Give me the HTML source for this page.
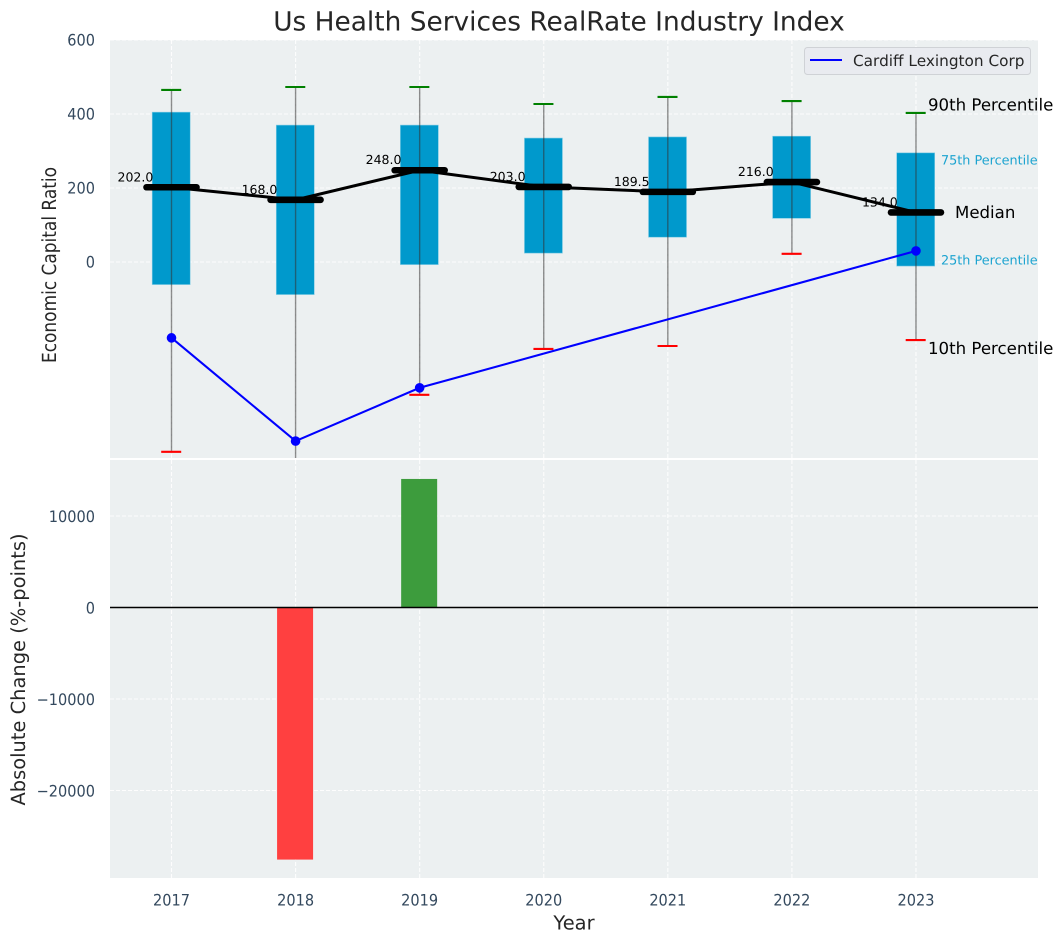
<!DOCTYPE html>
<html>
<head>
<meta charset="utf-8">
<title>Us Health Services RealRate Industry Index</title>
<style>
html,body{margin:0;padding:0;background:#fff;}
svg{display:block;font-family:"DejaVu Sans","Liberation Sans",sans-serif;text-rendering:geometricPrecision;}
</style>
</head>
<body>
<svg id="chart" xmlns="http://www.w3.org/2000/svg" width="1063" height="942" viewBox="0 0 1063 942">
<defs>
<clipPath id="clip-top"><rect x="110" y="40" width="928" height="418"/></clipPath>
<clipPath id="clip-bottom"><rect x="110" y="460" width="928" height="418"/></clipPath>
</defs>
<rect x="110" y="40" width="928" height="418" fill="#ecf0f1"/>
<rect x="110" y="460" width="928" height="418" fill="#ecf0f1"/>
<g id="grid-top" clip-path="url(#clip-top)"></g>
<g id="grid-bottom" clip-path="url(#clip-bottom)"></g>
<g id="marks-top" clip-path="url(#clip-top)"></g>
<g id="marks-bottom" clip-path="url(#clip-bottom)"></g>
<g id="labels"></g>
<text x="559" y="30.3" text-anchor="middle" font-size="26.4px" fill="#262626">Us Health Services RealRate Industry Index</text>
<text transform="translate(56,265) rotate(-90)" text-anchor="middle" font-size="19.44px" textLength="196" lengthAdjust="spacingAndGlyphs" fill="#262626">Economic Capital Ratio</text>
<text transform="translate(24.8,669.5) rotate(-90)" text-anchor="middle" font-size="19.44px" fill="#262626">Absolute Change (%-points)</text>
<text x="574" y="929.3" text-anchor="middle" font-size="19.44px" fill="#262626">Year</text>
<g>
<rect x="804.5" y="47.5" width="226" height="27" rx="3" fill="#e9ebf0" stroke="#cfd2d6" stroke-width="1"/>
<line x1="810" y1="60" x2="842" y2="60" stroke="#0000ff" stroke-width="2"/>
<text x="853" y="66" font-size="15.3px" fill="#262626">Cardiff Lexington Corp</text>
</g>
<text x="928" y="110.5" font-size="16.6px" fill="#000">90th Percentile</text>
<text x="941" y="164.5" font-size="12.8px" fill="#1ba3d0">75th Percentile</text>
<text x="955" y="218" font-size="16.6px" fill="#000">Median</text>
<text x="941" y="264.5" font-size="12.8px" fill="#1ba3d0">25th Percentile</text>
<text x="928" y="354" font-size="16.6px" fill="#000">10th Percentile</text>
</svg>
<script>
const years = [2017, 2018, 2019, 2020, 2021, 2022, 2023];
const p90 = [465, 473, 473, 427, 446, 435, 403];
const p75 = [405, 370, 370, 335, 338, 340, 295];
const medians = [202, 168, 248, 203, 189.5, 216, 134];
const medianLabels = ['202.0', '168.0', '248.0', '203.0', '189.5', '216.0', '134.0'];
const p25 = [-61, -88, -7, 24, 67, 118, -11];
const p10 = [-513, -560, -359, -235, -227, 22, -211];
const companyYears = [2017, 2018, 2019, 2023];
const companyValues = [-205, -484, -340, 30];
const changeYears = [2018, 2019];
const changeValues = [-27550, 14050];
const topTicks = [600, 400, 200, 0];
const bottomTicks = [10000, 0, -10000, -20000];
const bottomTickLabels = ['10000', '0', '\u221210000', '\u221220000'];

const NS = 'http://www.w3.org/2000/svg';
function xScale(year) { return 171.5 + (year - 2017) * 124.08; }
function yTop(v) { return 262 - v * 0.37; }
function yBottom(v) { return 607.5 - v * 0.00915; }
function make(parent, tag, attrs) {
  const el = document.createElementNS(NS, tag);
  for (const k in attrs) el.setAttribute(k, attrs[k]);
  parent.appendChild(el);
  return el;
}
function condense(el) {
  const natural = el.getComputedTextLength();
  el.setAttribute('textLength', natural * 0.92);
  el.setAttribute('lengthAdjust', 'spacingAndGlyphs');
}
const gridTop = document.getElementById('grid-top');
const gridBottom = document.getElementById('grid-bottom');
const marksTop = document.getElementById('marks-top');
const marksBottom = document.getElementById('marks-bottom');
const labels = document.getElementById('labels');
const gridStyle = { stroke: '#ffffff', 'stroke-width': 1.1, 'stroke-dasharray': '4 2', opacity: 0.9 };
const tickFont = { 'font-size': '15.8px', fill: '#34495e' };

years.forEach(function (yr) {
  const x = xScale(yr);
  const a = make(gridTop, 'line', Object.assign({ x1: x, x2: x, y1: 40, y2: 458 }, gridStyle));
  
  
  const b = make(gridBottom, 'line', Object.assign({ x1: x, x2: x, y1: 460, y2: 878 }, gridStyle));
  
  
  const t = make(labels, 'text', Object.assign({ x: x, y: 905.6, 'text-anchor': 'middle' }, tickFont));
  t.textContent = String(yr);
  condense(t);
  
  
});
topTicks.forEach(function (v) {
  const y = yTop(v);
  const g = make(gridTop, 'line', Object.assign({ x1: 110, x2: 1038, y1: y, y2: y }, gridStyle));
  
  
  const t = make(labels, 'text', Object.assign({ x: 95, y: y + 5.6, 'text-anchor': 'end' }, tickFont));
  t.textContent = String(v);
  condense(t);
  
  
});
bottomTicks.forEach(function (v, i) {
  const y = yBottom(v);
  const g = make(gridBottom, 'line', Object.assign({ x1: 110, x2: 1038, y1: y, y2: y }, gridStyle));
  
  
  const t = make(labels, 'text', Object.assign({ x: 95, y: y + 6.2, 'text-anchor': 'end' }, tickFont));
  t.textContent = bottomTickLabels[i];
  condense(t);
  
  
});

years.forEach(function (yr, i) {
  const x = xScale(yr);
  const box = make(marksTop, 'rect', { x: x - 19.3, y: yTop(p75[i]), width: 38, height: yTop(p25[i]) - yTop(p75[i]), fill: '#0099cc', stroke: '#7fcbe4', 'stroke-width': 0.6 });
  
  
  const w = make(marksTop, 'line', { x1: x, x2: x, y1: yTop(p90[i]), y2: yTop(p10[i]), stroke: '#333333', 'stroke-width': 1.4, opacity: 0.55 });
  
  
  const c1 = make(marksTop, 'line', { x1: x - 10.3, x2: x + 9.7, y1: yTop(p90[i]), y2: yTop(p90[i]), stroke: '#008000', 'stroke-width': 2.1 });
  
  
  const c2 = make(marksTop, 'line', { x1: x - 10.3, x2: x + 9.7, y1: yTop(p10[i]), y2: yTop(p10[i]), stroke: '#ff0000', 'stroke-width': 2.1 });
  
  
});

const medianLine = make(marksTop, 'polyline', {
  points: years.map(function (yr, i) { return xScale(yr) + ',' + yTop(medians[i]); }).join(' '),
  fill: 'none', stroke: '#000000', 'stroke-width': 3
});



years.forEach(function (yr, i) {
  const x = xScale(yr);
  const y = yTop(medians[i]);
  const m = make(marksTop, 'line', { x1: x - 25, x2: x + 25, y1: y, y2: y, stroke: '#000000', 'stroke-width': 6.6, 'stroke-linecap': 'round' });
  
  
  const t = make(marksTop, 'text', { x: x - 18.2, y: y - 6, 'text-anchor': 'end', 'font-size': '12.5px', fill: '#000000' });
  t.textContent = medianLabels[i];
  
  
});

const companyLine = make(marksTop, 'polyline', {
  points: companyYears.map(function (yr, i) { return xScale(yr) + ',' + yTop(companyValues[i]); }).join(' '),
  fill: 'none', stroke: '#0000ff', 'stroke-width': 2.1
});


companyYears.forEach(function (yr, i) {
  const p = make(marksTop, 'circle', { cx: xScale(yr), cy: yTop(companyValues[i]), r: 4.8, fill: '#0000ff' });
  
  
});

changeYears.forEach(function (yr, i) {
  const v = changeValues[i];
  const y0 = yBottom(0);
  const y1 = yBottom(v);
  const b = make(marksBottom, 'rect', { x: xScale(yr) - 18.5, y: Math.min(y0, y1), width: 36, height: Math.abs(y1 - y0), fill: v >= 0 ? '#3d9c3d' : '#ff4040' });
  
  
});
const zero = make(marksBottom, 'line', { x1: 110, x2: 1038, y1: yBottom(0), y2: yBottom(0), stroke: '#000000', 'stroke-width': 1.5 });


</script>
</body>
</html>
